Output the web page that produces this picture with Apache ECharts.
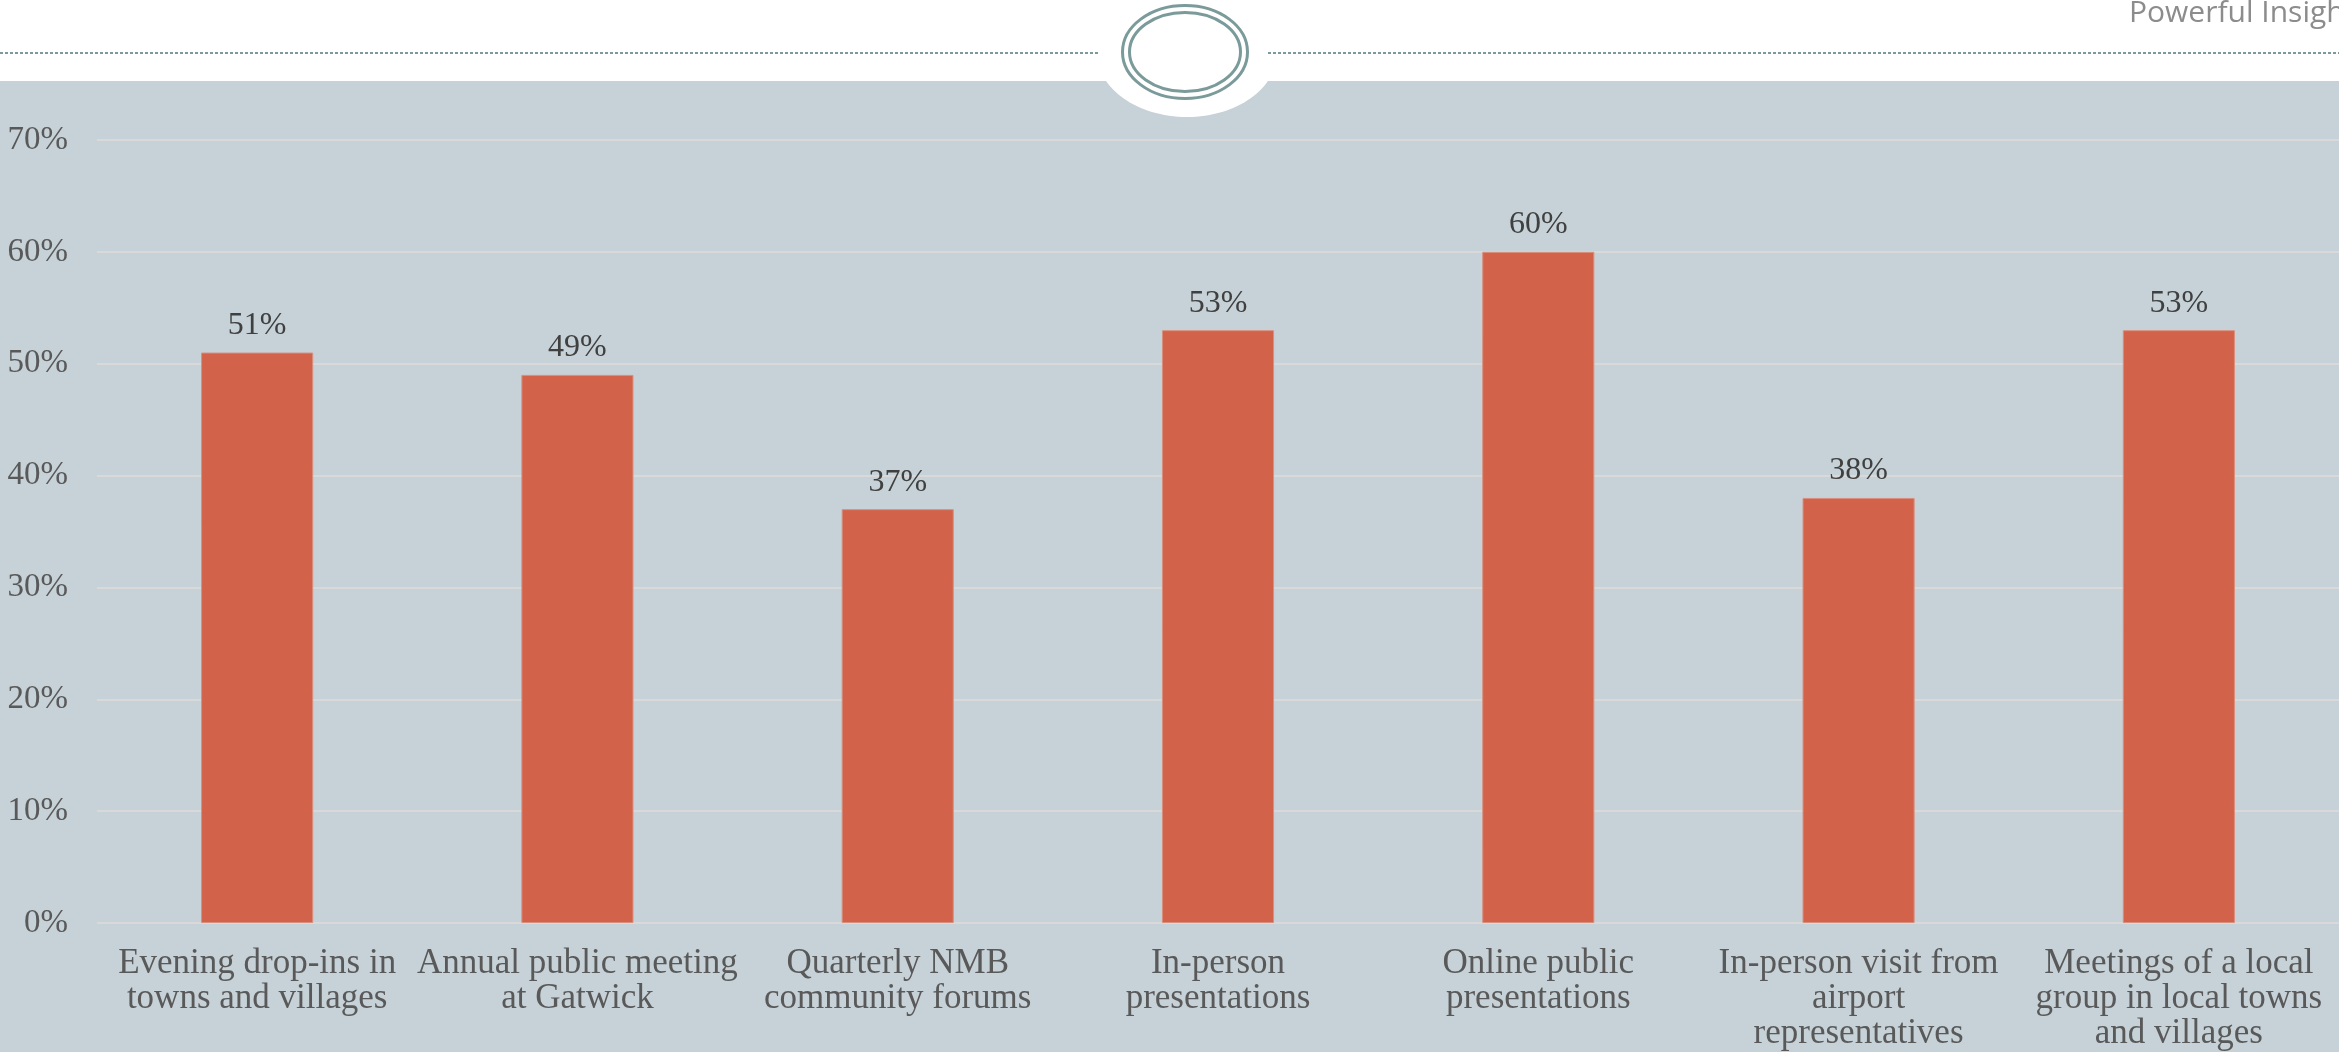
<!DOCTYPE html>
<html>
<head>
<meta charset="utf-8">
<style>
  html, body { margin: 0; padding: 0; background: #ffffff; }
  #chart { width: 2339px; height: 1052px; }
</style>
<script src="https://cdn.jsdelivr.net/npm/echarts@6/dist/echarts.min.js"></script>
</head>
<body>
<div id="chart"></div>
<script>
// Preferred ways of hearing from the airport: share of respondents per option
const categories = [
  'Evening drop-ins in\ntowns and villages',
  'Annual public meeting\nat Gatwick',
  'Quarterly NMB\ncommunity forums',
  'In-person\npresentations',
  'Online public\npresentations',
  'In-person visit from\nairport\nrepresentatives',
  'Meetings of a local\ngroup in local towns\nand villages'
];
const values = [51, 49, 37, 53, 60, 38, 53];
const yTicks = { min: 0, max: 70, interval: 10 };
const brandText = 'Powerful Insights';

const W = 2339, H = 1052;
const panelTop = 81;
const emblemX = 1185, emblemY = 52;
const ruleY = 53;
const ruleColor = '#7b9a9a';

const chart = echarts.init(document.getElementById('chart'), null, { renderer: 'canvas' });

chart.setOption({
  backgroundColor: '#ffffff',
  animation: false,
  textStyle: { fontFamily: 'Liberation Serif, serif' },
  graphic: [
    // blue-grey panel behind the plot
    { type: 'rect', z: -10, silent: true,
      shape: { x: 0, y: panelTop, width: W, height: H - panelTop },
      style: { fill: '#c6d2d8' } },
    // white notch under the emblem
    { type: 'ellipse', z: -9, silent: true,
      shape: { cx: emblemX + 2, cy: 53, rx: 90, ry: 64 },
      style: { fill: '#ffffff' } },
    // dashed header rule, split around the emblem
    { type: 'line', z: -8, silent: true,
      shape: { x1: 0, y1: ruleY, x2: 1099, y2: ruleY },
      style: { stroke: ruleColor, lineWidth: 2, lineDash: [3, 2] } },
    { type: 'line', z: -8, silent: true,
      shape: { x1: 1268, y1: ruleY, x2: W, y2: ruleY },
      style: { stroke: ruleColor, lineWidth: 2, lineDash: [3, 2] } },
    // double-ring emblem
    { type: 'ellipse', z: -8, silent: true,
      shape: { cx: emblemX, cy: emblemY, rx: 62.5, ry: 46.5 },
      style: { fill: 'none', stroke: ruleColor, lineWidth: 3 } },
    { type: 'ellipse', z: -8, silent: true,
      shape: { cx: emblemX, cy: emblemY, rx: 55.5, ry: 39.5 },
      style: { fill: '#ffffff', stroke: ruleColor, lineWidth: 3 } },
    // running header text
    { type: 'text', z: -8, silent: true, x: 2129, y: -2,
      style: { text: brandText, fill: '#8c8c8c',
        font: '30px "Open Sans", sans-serif',
        align: 'left', verticalAlign: 'top' } }
  ],
  grid: { left: 97, right: 0, top: 140, bottom: H - 923,
          containLabel: false, outerBoundsMode: 'none' },
  xAxis: {
    type: 'category',
    data: categories,
    axisLine: { show: false },
    axisTick: { show: false },
    axisLabel: {
      interval: 0,
      margin: 23,
      color: '#595959',
      fontFamily: 'Liberation Serif, serif',
      fontSize: 35,
      lineHeight: 35
    }
  },
  yAxis: {
    type: 'value',
    min: yTicks.min,
    max: yTicks.max,
    interval: yTicks.interval,
    axisLine: { show: false },
    axisTick: { show: false },
    splitLine: { lineStyle: { color: '#d9d9d9', width: 2 } },
    axisLabel: {
      margin: 29,
      color: '#595959',
      fontFamily: 'Liberation Serif, serif',
      fontSize: 33,
      formatter: v => v + '%'
    }
  },
  series: [{
    type: 'bar',
    data: values,
    barWidth: '35%',
    itemStyle: { color: '#d2634a', borderColor: '#d98f7e', borderWidth: 1 },
    label: {
      show: true,
      position: 'top',
      distance: 11,
      color: '#404040',
      fontFamily: 'Liberation Serif, serif',
      fontSize: 32,
      formatter: p => p.value + '%'
    }
  }]
});
</script>
</body>
</html>
